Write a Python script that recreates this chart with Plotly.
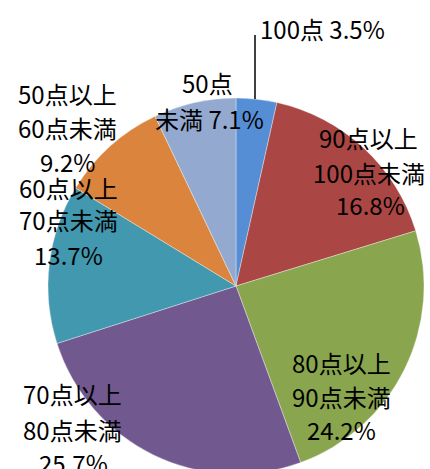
import plotly.graph_objects as go

categories = ["100点", "90点以上100点未満", "80点以上90点未満", "70点以上80点未満",
              "60点以上70点未満", "50点以上60点未満", "50点未満"]
values = [3.5, 16.8, 24.2, 25.7, 13.7, 9.2, 7.1]
colors = ["#558ED5", "#AA4643", "#89A54E", "#71588F", "#4198AF", "#DB843D", "#93A9CF"]

# label lines (text) with their pixel centers
label_lines = [
    ("100点 3.5%", 322, 28),
    ("90点以上", 368, 137), ("100点未満", 369, 172), ("16.8%", 370, 205),
    ("80点以上", 341, 362), ("90点未満", 341, 396), ("24.2%", 341, 429),
    ("70点以上", 72, 393), ("80点未満", 72, 429), ("25.7%", 73, 462),
    ("60点以上", 68, 187), ("70点未満", 68, 220), ("13.7%", 68, 254),
    ("50点以上", 67, 94), ("60点未満", 67, 128), ("9.2%", 67, 161),
    ("50点", 207, 83), ("未満 7.1%", 209, 118),
]

W, H = 430, 480
cx, cy, r = 236, 286, 188

fig = go.Figure(go.Pie(
    labels=categories, values=values, sort=False, direction="clockwise", rotation=0,
    marker=dict(colors=colors, line=dict(color="rgba(255,255,255,0.6)", width=0.6)),
    textinfo="none", hoverinfo="label+percent", showlegend=False,
    domain=dict(x=[(cx - r) / W, (cx + r) / W], y=[1 - (cy + r) / H, 1 - (cy - r) / H]),
))

for txt, px, py in label_lines:
    fig.add_annotation(text=txt, x=px / W, y=1 - py / H, xref="paper", yref="paper",
                       showarrow=False, xanchor="center", yanchor="middle",
                       font=dict(family="Noto Sans CJK JP", size=24, color="black"))

fig.add_shape(type="line", xref="paper", yref="paper",
              x0=255 / W, x1=255 / W, y0=1 - 35 / H, y1=1 - 99 / H,
              line=dict(color="black", width=1.5))

fig.update_layout(width=W, height=H, margin=dict(l=0, r=0, t=0, b=0),
                  paper_bgcolor="white", plot_bgcolor="white")

fig.write_html("out.html", config={"displayModeBar": False},
               post_script="document.body.style.margin='0';document.body.style.overflow='hidden';")
